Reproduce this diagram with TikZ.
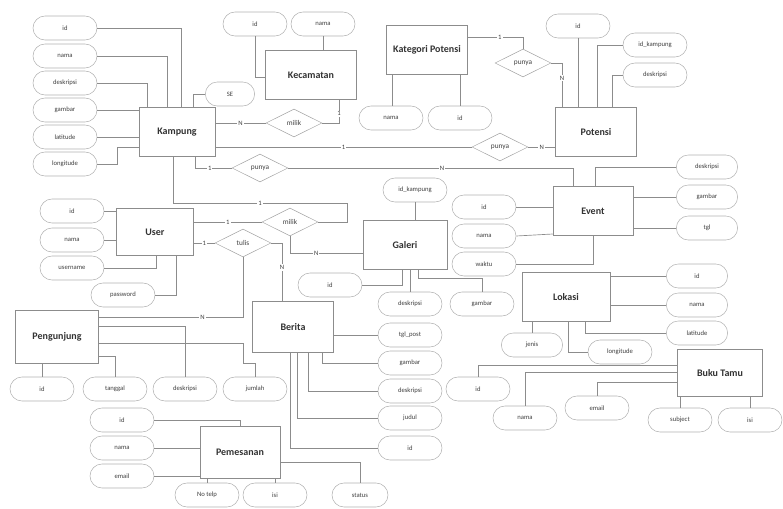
\documentclass[tikz,border=0pt]{standalone}
\usepackage{fontspec}
\setmainfont{Carlito}
\usetikzlibrary{positioning, shapes}
\tikzset{
    %Define style for entity boxes
    entity/.style={
           rectangle,
           draw=black!45,
           fill=white,
           minimum width=61pt,
           minimum height=37pt,
           font=\fontsize{7.5}{9}\selectfont\bfseries,
           text=black!80},
    %Define style for attributes
    attrib/.style={
           rectangle,
           rounded corners=9pt,
           draw=black!30,
           fill=white,
           minimum width=48pt,
           minimum height=18pt,
           inner sep=1pt,
           font=\fontsize{5}{6}\selectfont,
           text=black!75},
    %Define style for relations
    relat/.style={
           diamond,
           aspect=2,
           draw=black!35,
           fill=white,
           minimum width=42pt,
           minimum height=21pt,
           inner sep=0pt,
           font=\fontsize{5.5}{6}\selectfont,
           text=black!75},
    % Define connector style
    conn/.style={
           draw=black!45,
           line width=0.5pt},
    card/.style={
           fill=white,
           inner sep=0.8pt,
           text=black!75,
           font=\fontsize{5}{6}\selectfont}
}

\begin{document}
\begin{tikzpicture}[x=0.75pt, y=-0.75pt]
    \useasboundingbox (0,0) rectangle (783,508);

    % KAMPUNG
    \node[entity, minimum width=57pt] at (177,132) (kampung) {Kampung};
    \node[attrib] at (65,28) (kamp-id) {id};
    \node[attrib] at (65,56) (kamp-nama) {nama};
    \node[attrib] at (65,83) (kamp-desk) {deskripsi};
    \node[attrib] at (65,110) (kamp-gambar) {gambar};
    \node[attrib] at (65,137) (kamp-lat) {latitude};
    \node[attrib] at (65,164) (kamp-long) {longitude};
    \node[attrib, minimum width=37pt] at (230,94) (kamp-se) {SE};
    \draw[conn] (kamp-id.east) -| (kampung.north -| 181,0);
    \draw[conn] (kamp-nama.east) -| (kampung.north -| 167,0);
    \draw[conn] (kamp-desk.east) -| (kampung.north -| 147,0);
    \draw[conn] (kamp-gambar.east) -- (kampung.west |- kamp-gambar.east);
    \draw[conn] (kamp-lat.east) -- (kampung.west |- kamp-lat.east);
    \draw[conn] (kamp-long.east) -| (117,147) -- (kampung.west |- 117,147);
    \draw[conn] (kampung.north -| 193,0) |- (kamp-se.west);

    % KECAMATAN
    \node[entity, minimum width=68pt] at (311,75) (kecamatan) {Kecamatan};
    \node[attrib] at (255,24) (kec-id) {id};
    \node[attrib] at (323,24) (kec-nama) {nama};
    \draw[conn] (kec-id.south) |- (kecamatan.west |- 0,77);
    \draw[conn] (kec-nama.south) -- (kecamatan.north -| kec-nama.south);
    \node[relat] at (294,123) (milik-kec) {milik};
    \draw[conn] (kampung.east |- 0,123) -- node[card]{N} (milik-kec.west);
    \draw[conn] (milik-kec.east) -| node[card, pos=0.7]{1} (kecamatan.south -| 339,0);

    % KATEGORI POTENSI
    \node[entity] at (427,50) (katpotensi) {Kategori Potensi};
    \node[attrib] at (391,118) (kat-nama) {nama};
    \node[attrib] at (460,118) (kat-id) {id};
    \draw[conn] (katpotensi.south -| 392,0) -- (kat-nama.north -| 392,0);
    \draw[conn] (katpotensi.south -| kat-id.north) -- (kat-id.north);
    \node[relat] at (523,63) (punya-kat) {punya};
    \draw[conn] (katpotensi.east |- 0,37) -| node[card, pos=0.29]{1} (punya-kat.north);
    \draw[conn] (punya-kat.east) -| node[card, pos=0.67]{N} (562,107);

    % POTENSI
    \node[entity] at (596,132) (potensi) {Potensi};
    \node[attrib] at (578,26) (pot-id) {id};
    \node[attrib] at (655,45) (pot-idk) {id\_kampung};
    \node[attrib] at (655,75) (pot-desk) {deskripsi};
    \draw[conn] (pot-id.south) -- (potensi.north -| pot-id.south);
    \draw[conn] (pot-idk.west) -| (potensi.north -| 597,0);
    \draw[conn] (pot-desk.west) -| (potensi.north -| 612,0);
    \node[relat] at (500,147) (punya-pot) {punya};
    \draw[conn] (kampung.east |- 0,147) -- node[card]{1} (punya-pot.west);
    \draw[conn] (punya-pot.east) -- node[card]{N} (potensi.west |- 0,147);

    % EVENT
    \node[entity, minimum width=60pt] at (593,211) (event) {Event};
    \node[attrib] at (484,207) (ev-id) {id};
    \node[attrib] at (484,236) (ev-nama) {nama};
    \node[attrib] at (484,264) (ev-waktu) {waktu};
    \node[attrib, minimum width=46pt] at (707,167) (ev-desk) {deskripsi};
    \node[attrib, minimum width=46pt] at (707,197) (ev-gambar) {gambar};
    \node[attrib, minimum width=46pt] at (707,228) (ev-tgl) {tgl};
    \draw[conn] (ev-id.east) -- (event.west |- ev-id.east);
    \draw[conn] (ev-nama.east) -- (event.west |- 0,234);
    \draw[conn] (ev-waktu.east) -| (event.south);
    \draw[conn] (ev-desk.west) -| (event.north -| 595,0);
    \draw[conn] (event.east |- ev-gambar.west) -- (ev-gambar.west);
    \draw[conn] (event.east |- ev-tgl.west) -- (ev-tgl.west);
    \node[relat] at (260,168) (punya-ev) {punya};
    \draw[conn] (kampung.south -| 195,0) |- node[card, pos=0.7]{1} (punya-ev.west);
    \draw[conn] (punya-ev.east) -| node[card, pos=0.27]{N} (event.north -| 573,0);

    % GALERI
    \node[entity, minimum width=63pt] at (405,245) (galeri) {Galeri};
    \node[attrib] at (415,190) (gal-idk) {id\_kampung};
    \node[attrib] at (330,285) (gal-id) {id};
    \node[attrib] at (410,304) (gal-desk) {deskripsi};
    \node[attrib] at (482,304) (gal-gambar) {gambar};
    \draw[conn] (gal-idk.south) -- (galeri.north -| gal-idk.south);
    \draw[conn] (gal-id.east) -| (galeri.south -| 402,0);
    \draw[conn] (gal-desk.north) -- (galeri.south -| gal-desk.north);
    \draw[conn] (gal-gambar.north) |- (418,278) -- (galeri.south -| 418,0);
    \node[relat] at (290,222) (milik-gal) {milik};
    \draw[conn] (kampung.south -| 173,0) |- node[card, pos=0.75]{1} (347,203) |- (milik-gal.east);
    \draw[conn] (milik-gal.south) |- node[card, pos=0.68]{N} (galeri.west |- 0,253);

    % USER
    \node[entity, minimum width=58pt, minimum height=35pt] at (155,232) (user) {User};
    \node[attrib] at (72,211) (user-id) {id};
    \node[attrib] at (72,240) (user-nama) {nama};
    \node[attrib] at (72,268) (user-username) {username};
    \node[attrib] at (123,295) (user-password) {password};
    \draw[conn] (user-id.east) -- (user.west |- user-id.east);
    \draw[conn] (user-nama.east) -- (user.west |- user-nama.east);
    \draw[conn] (user-username.east) -| (user.south -| 156,0);
    \draw[conn] (user-password.east) -| (user.south -| 176,0);
    \draw[conn] (user.east |- 0,222) -- node[card]{1} (milik-gal.west);
    \node[relat] at (243,243) (tulis) {tulis};
    \draw[conn] (user.east |- 0,243) -- node[card]{1} (tulis.west);

    % PENGUNJUNG
    \node[entity, minimum width=62pt, minimum height=40pt] at (57,337) (pengunjung) {Pengunjung};
    \node[attrib] at (42,389) (p-id) {id};
    \node[attrib] at (115,389) (p-tanggal) {tanggal};
    \node[attrib] at (185,389) (p-desk) {deskripsi};
    \node[attrib] at (255,389) (p-jumlah) {jumlah};
    \draw[conn] (pengunjung.south -| p-id.north) -- (p-id.north);
    \draw[conn] (pengunjung.east |- 0,356) -| (p-tanggal.north);
    \draw[conn] (pengunjung.east |- 0,326) -| (p-desk.north);
    \draw[conn] (pengunjung.east |- 0,343) -| (243,363) -| (p-jumlah.north);
    \draw[conn] (tulis.south) |- node[card, pos=0.64]{N} (pengunjung.east |- 0,317);

    % BERITA
    \node[entity, minimum height=38pt] at (293,327) (berita) {Berita};
    \node[attrib] at (410,335) (b-tgl) {tgl\_post};
    \node[attrib] at (410,363) (b-gambar) {gambar};
    \node[attrib] at (410,391) (b-desk) {deskripsi};
    \node[attrib] at (410,418) (b-judul) {judul};
    \node[attrib] at (410,448) (b-id) {id};
    \draw[conn] (berita.east |- b-tgl.west) -- (b-tgl.west);
    \draw[conn] (berita.south -| 322,0) |- (b-gambar.west);
    \draw[conn] (berita.south -| 308,0) |- (b-desk.west);
    \draw[conn] (berita.south -| 297,0) |- (b-judul.west);
    \draw[conn] (berita.south -| 290,0) |- (b-id.west);
    \draw[conn] (tulis.east) -| node[card, pos=0.71]{N} (berita.north -| 282,0);

    % PEMESANAN
    \node[entity, minimum width=60pt, minimum height=39pt] at (240,452) (pemesanan) {Pemesanan};
    \node[attrib] at (122,420) (pm-id) {id};
    \node[attrib] at (122,448) (pm-nama) {nama};
    \node[attrib] at (122,476) (pm-email) {email};
    \node[attrib] at (207,495) (pm-telp) {No telp};
    \node[attrib] at (275,495) (pm-isi) {isi};
    \node[attrib, minimum width=42pt] at (360,495) (pm-status) {status};
    \draw[conn] (pm-id.east) -| (pemesanan.north);
    \draw[conn] (pm-nama.east) -- (pemesanan.west |- pm-nama.east);
    \draw[conn] (pm-email.east) -- (pemesanan.west |- pm-email.east);
    \draw[conn] (pemesanan.south -| pm-telp.north) -- (pm-telp.north);
    \draw[conn] (pemesanan.south -| pm-isi.north) -- (pm-isi.north);
    \draw[conn] (pemesanan.east |- 0,462) -| (pm-status.north);

    % LOKASI
    \node[entity, minimum width=66pt] at (566,297) (lokasi) {Lokasi};
    \node[attrib, minimum width=46pt] at (697,276) (lok-id) {id};
    \node[attrib, minimum width=46pt] at (697,305) (lok-nama) {nama};
    \node[attrib, minimum width=46pt] at (697,333) (lok-lat) {latitude};
    \node[attrib, minimum width=46pt] at (532,345) (lok-jenis) {jenis};
    \node[attrib] at (620,352) (lok-long) {longitude};
    \draw[conn] (lokasi.east |- lok-id.west) -- (lok-id.west);
    \draw[conn] (lokasi.east |- lok-nama.west) -- (lok-nama.west);
    \draw[conn] (lokasi.south -| 585,0) |- (lok-lat.west);
    \draw[conn] (lokasi.south -| lok-jenis.north) -- (lok-jenis.north);
    \draw[conn] (lokasi.south -| 568,0) |- (lok-long.west);

    % BUKU TAMU
    \node[entity, minimum width=64pt, minimum height=35pt] at (720,373) (bukutamu) {Buku Tamu};
    \node[attrib] at (478,389) (bt-id) {id};
    \node[attrib] at (525,418) (bt-nama) {nama};
    \node[attrib] at (597,408) (bt-email) {email};
    \node[attrib] at (680,420) (bt-subject) {subject};
    \node[attrib] at (750,420) (bt-isi) {isi};
    \draw[conn] (bukutamu.west |- 0,365) -| (bt-id.north);
    \draw[conn] (bukutamu.west |- 0,372) -| (bt-nama.north);
    \draw[conn] (bukutamu.west |- 0,382) -| (bt-email.north);
    \draw[conn] (bukutamu.south -| bt-subject.north) -- (bt-subject.north);
    \draw[conn] (bukutamu.south -| bt-isi.north) -- (bt-isi.north);

\end{tikzpicture}
\end{document}
